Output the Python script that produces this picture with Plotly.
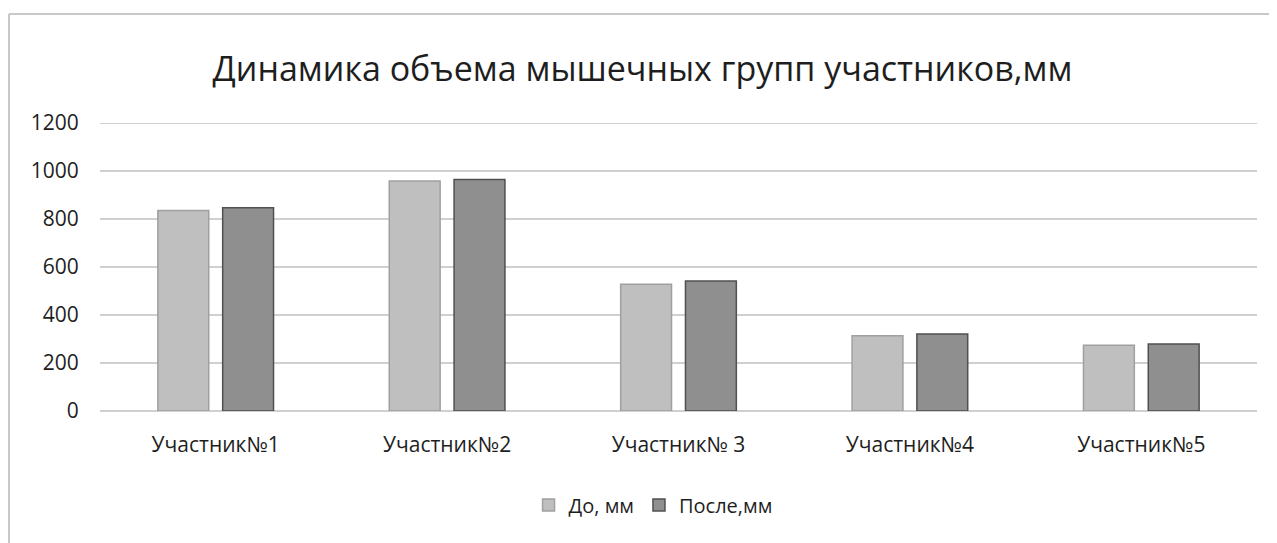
import plotly.graph_objects as go

categories = ["Участник№1", "Участник№2", "Участник№ 3", "Участник№4", "Участник№5"]
before_vals = [835, 958, 528, 314, 274]
after_vals = [847, 965, 542, 321, 279]
series_names = ["До, мм", "После,мм"]
y_ticks = [0, 200, 400, 600, 800, 1000, 1200]

FONT = "Open Sans"
TXT = "#1e1e1e"
GRID = "#d0d0d0"

# page body adds an 8px offset, so the figure is sized to fill the rest of the window
W, H = 1269, 535
L, R, T, B = 92, 20, 115, 132
PW, PH = W - L - R, H - T - B

fig = go.Figure()
fig.add_trace(go.Bar(
    x=categories, y=before_vals, name=series_names[0],
    marker=dict(color="#bfbfbf", line=dict(color="#a0a0a0", width=1.5)),
))
fig.add_trace(go.Bar(
    x=categories, y=after_vals, name=series_names[1],
    marker=dict(color="#8f8f8f", line=dict(color="#505050", width=1.5)),
))

fig.update_layout(
    width=W, height=H,
    margin=dict(l=L, r=R, t=T, b=B),
    paper_bgcolor="white", plot_bgcolor="white",
    barmode="group", bargap=0.44, bargroupgap=0.215,
    title=dict(text="Динамика объема мышечных групп участников,мм",
               x=0.5, xanchor="center", y=1 - 61 / H, yanchor="middle",
               font=dict(family=FONT, size=34, color=TXT)),
    font=dict(family=FONT, color=TXT),
    legend=dict(orientation="h", x=0.478, xanchor="center", y=-94 / PH, yanchor="middle",
                font=dict(family=FONT, size=20, color=TXT),
                itemwidth=30, tracegroupgap=0),
    showlegend=True,
)
fig.update_yaxes(range=[0, y_ticks[-1]], tickvals=y_ticks, showgrid=True,
                 gridcolor=GRID, gridwidth=2, zeroline=True,
                 zerolinecolor=GRID, zerolinewidth=2, showline=False,
                 tickfont=dict(family=FONT, size=21, color=TXT),
                 ticks="outside", ticklen=16, tickcolor="rgba(0,0,0,0)")
fig.update_xaxes(showgrid=False, showline=False,
                 tickfont=dict(family=FONT, size=21, color=TXT),
                 ticks="outside", ticklen=15, tickcolor="rgba(0,0,0,0)")

# top gridline (plotly hides the gridline lying on the plot edge)
fig.add_shape(type="line", xref="paper", yref="y", layer="below",
              x0=0, x1=1, y0=y_ticks[-1], y1=y_ticks[-1],
              line=dict(color=GRID, width=2))

# outer chart frame (top and left edges visible)
fx0 = (1 - L) / PW
fx1 = (W - L) / PW
fy_top = (T + PH - 6) / PH
fy_bot = (T + PH - H) / PH
fig.add_shape(type="line", xref="paper", yref="paper",
              x0=fx0, x1=fx1, y0=fy_top, y1=fy_top,
              line=dict(color="#c8c8c8", width=2))
fig.add_shape(type="line", xref="paper", yref="paper",
              x0=fx0, x1=fx0, y0=fy_top, y1=fy_bot,
              line=dict(color="#c8c8c8", width=2))

fig.write_html("out.html")
